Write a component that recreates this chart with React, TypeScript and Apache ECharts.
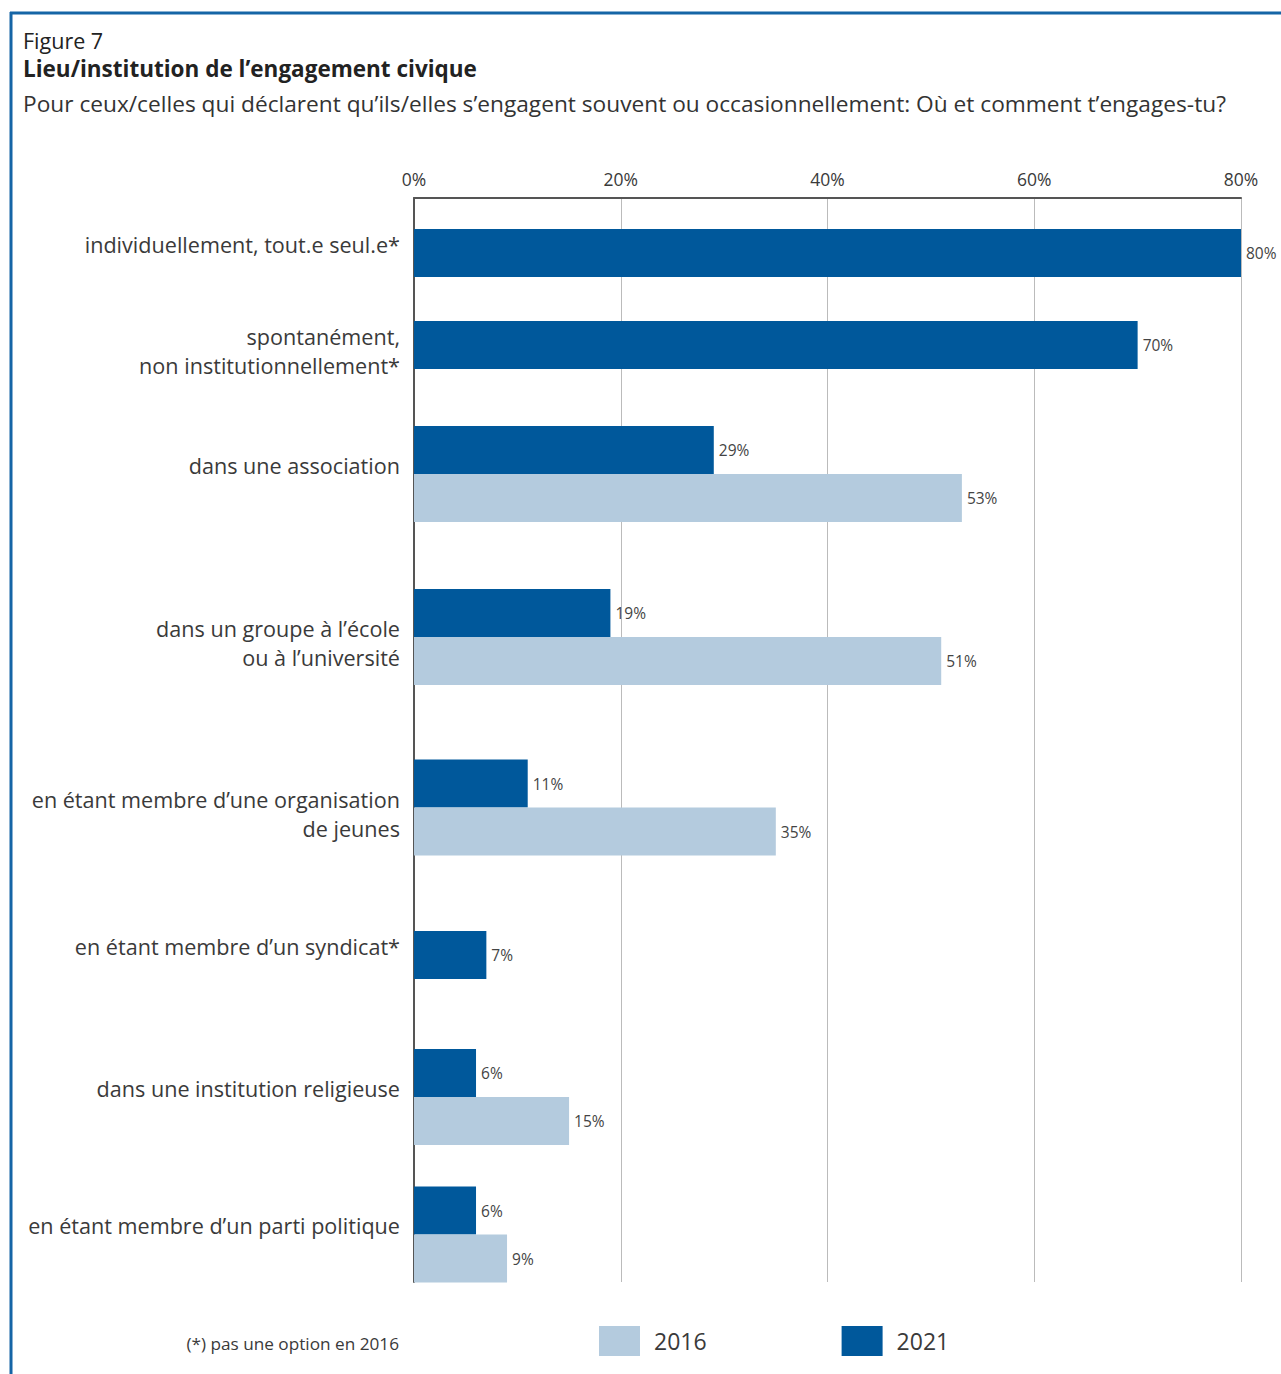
import React, { useEffect, useRef } from "react";
import * as echarts from "echarts";

const categories = [
  "individuellement, tout.e seul.e*",
  "spontanément,\nnon institutionnellement*",
  "dans une association",
  "dans un groupe à l’école\nou à l’université",
  "en étant membre d’une organisation\nde jeunes",
  "en étant membre d’un syndicat*",
  "dans une institution religieuse",
  "en étant membre d’un parti politique",
];
const values2021: (number | null)[] = [80, 70, 29, 19, 11, 7, 6, 6];
const values2016: (number | null)[] = [null, null, 53, 51, 35, null, 15, 9];
const seriesNames = ["2016", "2021"];
const axisMin = 0;
const axisMax = 80;
const axisInterval = 20;

const figureLabel = "Figure 7";
const titleText = "Lieu/institution de l’engagement civique";
const subtitleText =
  "Pour ceux/celles qui déclarent qu’ils/elles s’engagent souvent ou occasionnellement: Où et comment t’engages-tu?";
const footnoteText = "(*) pas une option en 2016";

// layout (pixel positions of each category group centre)
const groupCenters = [253, 345, 474, 637, 807.5, 955, 1097, 1234.5];
const PLOT_LEFT = 414;
const PLOT_WIDTH = 827;
const PLOT_TOP = 198;
const PLOT_HEIGHT = 1084;

const DARK = "#00589b";
const LIGHT = "#b4cbde";
const TEXT = "#3a3a3a";
const FONT = "'Open Sans', 'Noto Sans', sans-serif";

export default function App() {
  const ref = useRef<HTMLDivElement>(null);
  useEffect(() => {
    document.body.style.margin = "0";
    if (!ref.current) return;
    const chart = echarts.init(ref.current, null, { renderer: "svg" });

    const grids: any[] = [
      { left: PLOT_LEFT, top: PLOT_TOP, width: PLOT_WIDTH, height: PLOT_HEIGHT },
    ];
    const xAxes: any[] = [
      {
        gridIndex: 0,
        type: "value",
        position: "top",
        min: axisMin,
        max: axisMax,
        interval: axisInterval,
        axisLine: { show: true, onZero: false, lineStyle: { color: "#555", width: 2 } },
        axisTick: { show: false },
        axisLabel: {
          formatter: "{value}%",
          fontSize: 17.5,
          color: TEXT,
          margin: 10,
          fontFamily: FONT,
        },
        splitLine: { show: true, lineStyle: { color: "#bbb", width: 1 } },
      },
    ];
    const yAxes: any[] = [
      {
        gridIndex: 0,
        type: "value",
        min: 0,
        max: 1,
        axisLine: { show: true, onZero: false, lineStyle: { color: "#555", width: 2 } },
        axisTick: { show: false },
        axisLabel: { show: false },
        splitLine: { show: false },
      },
    ];
    const series: any[] = [];
    const labelStyle = {
      show: true,
      position: "right",
      distance: 5,
      formatter: "{c}%",
      fontSize: 15.5,
      color: "#444",
      fontFamily: FONT,
    };

    const catFormatter = (v: string) => {
      const lines = v.split("\n");
      if (lines.length === 1) return `{t|${v}}\n{g1| }`;
      return `{g2| }\n` + lines.map((l) => `{t|${l}}`).join("\n");
    };

    categories.forEach((cat, i) => {
      const gi = i + 1;
      grids.push({
        left: PLOT_LEFT,
        width: PLOT_WIDTH,
        top: groupCenters[i] - 60,
        height: 120,
      });
      xAxes.push({ gridIndex: gi, type: "value", min: axisMin, max: axisMax, show: false });
      yAxes.push({
        gridIndex: gi,
        type: "category",
        data: [cat],
        inverse: true,
        axisLine: { show: false },
        axisTick: { show: false },
        splitLine: { show: false },
        axisLabel: {
          margin: 14,
          align: "right",
          formatter: catFormatter,
          rich: {
            t: {
              fontSize: 21.6,
              lineHeight: 29,
              color: TEXT,
              fontFamily: FONT,
              align: "right",
            },
            g1: { fontSize: 1, lineHeight: 18 },
            g2: { fontSize: 1, lineHeight: 12 },
          },
        },
      });
      series.push({
        type: "bar",
        name: seriesNames[1],
        xAxisIndex: gi,
        yAxisIndex: gi,
        data: [values2021[i]],
        barWidth: 48,
        barGap: "0%",
        itemStyle: { color: DARK },
        label: labelStyle,
      });
      if (values2016[i] != null) {
        series.push({
          type: "bar",
          name: seriesNames[0],
          xAxisIndex: gi,
          yAxisIndex: gi,
          data: [values2016[i]],
          barWidth: 48,
          barGap: "0%",
          itemStyle: { color: LIGHT },
          label: labelStyle,
        });
      }
    });

    chart.setOption({
      animation: false,
      backgroundColor: "#fff",
      textStyle: { fontFamily: FONT },
      grid: grids,
      xAxis: xAxes,
      yAxis: yAxes,
      series,
      legend: {
        data: seriesNames,
        left: 599,
        top: 1326,
        padding: 0,
        itemWidth: 41,
        itemHeight: 30,
        itemGap: 135,
        icon: "rect",
        selectedMode: false,
        textStyle: {
          fontSize: 23,
          color: TEXT,
          fontFamily: FONT,
          padding: [0, 0, 0, 9],
        },
      },
      graphic: [
        {
          type: "line",
          shape: { x1: 10, y1: 13, x2: 1281, y2: 13 },
          style: { stroke: "#1565a6", lineWidth: 3 },
        },
        {
          type: "line",
          shape: { x1: 11, y1: 12, x2: 11, y2: 1374 },
          style: { stroke: "#1565a6", lineWidth: 3 },
        },
        {
          type: "text",
          left: 23,
          top: 29,
          style: { text: figureLabel, fontSize: 21.5, fill: "#222", fontFamily: FONT },
        },
        {
          type: "text",
          left: 23,
          top: 57,
          style: {
            text: titleText,
            fontSize: 22.5,
            fontWeight: "bold",
            fill: "#222",
            fontFamily: FONT,
          },
        },
        {
          type: "text",
          left: 23,
          top: 92,
          style: { text: subtitleText, fontSize: 22.7, fill: "#333", fontFamily: FONT },
        },
        {
          type: "text",
          right: 1281 - 399,
          top: 1335,
          style: { text: footnoteText, fontSize: 17.2, fill: TEXT, fontFamily: FONT },
        },
      ],
    });
    return () => chart.dispose();
  }, []);
  return <div ref={ref} style={{ width: 1281, height: 1374 }} />;
}
